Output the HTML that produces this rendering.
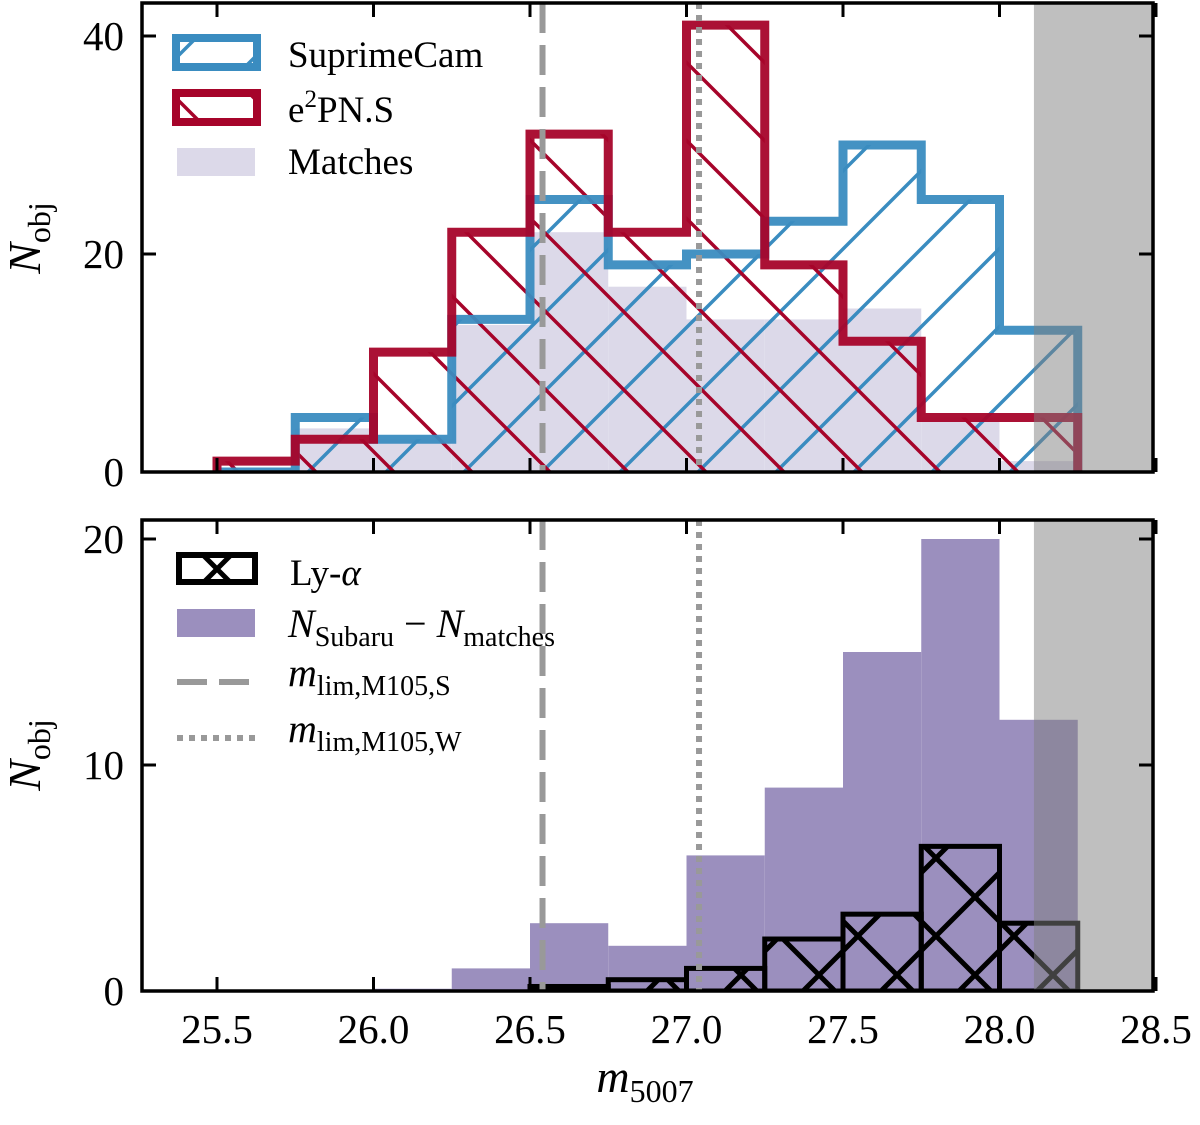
<!DOCTYPE html>
<html><head><meta charset="utf-8"><style>
body{margin:0;background:#fff}
svg text{font-family:"Liberation Serif","DejaVu Serif",serif;fill:#000}
</style></head><body>
<svg id="chart" width="1200" height="1120" viewBox="0 0 1200 1120" xmlns="http://www.w3.org/2000/svg">
<defs>
<pattern id="hatchBlue" patternUnits="userSpaceOnUse" width="78" height="78">
<path d="M-10,88 L88,-10 M-10,10 L10,-10 M68,88 L88,68" stroke="#3a8cc0" stroke-width="3.5"/>
</pattern>
<pattern id="hatchRed" patternUnits="userSpaceOnUse" width="78" height="78">
<path d="M-10,-10 L88,88 M-10,68 L10,88 M68,-10 L88,10" stroke="#a6042a" stroke-width="3.5"/>
</pattern>
<pattern id="hatchBlack" patternUnits="userSpaceOnUse" width="78" height="78">
<path d="M-10,-10 L88,88 M-10,68 L10,88 M68,-10 L88,10 M-10,88 L88,-10 M-10,10 L10,-10 M68,88 L88,68" stroke="#000" stroke-width="5"/>
</pattern>
<pattern id="hatchBlackLeg" patternUnits="userSpaceOnUse" x="178" y="530" width="78" height="78">
<path d="M-10,-10 L88,88 M-10,68 L10,88 M68,-10 L88,10 M-10,88 L88,-10 M-10,10 L10,-10 M68,88 L88,68" stroke="#000" stroke-width="5"/>
</pattern>
<clipPath id="clipTop"><rect x="142" y="3" width="1011" height="469"/></clipPath>
<clipPath id="clipBot"><rect x="142" y="520" width="1011" height="471"/></clipPath>
</defs>
<g id="topPanel"></g>
<g id="botPanel"></g>

<g transform="translate(40,238) rotate(-90)"><text x="0" y="0" font-size="46" font-style="italic" text-anchor="middle">N<tspan font-style="normal" font-size="32" dy="10">obj</tspan></text></g>
<g transform="translate(40,755) rotate(-90)"><text x="0" y="0" font-size="46" font-style="italic" text-anchor="middle">N<tspan font-style="normal" font-size="32" dy="10">obj</tspan></text></g>
<text x="645" y="1092" font-size="46" font-style="italic" text-anchor="middle">m<tspan font-style="normal" font-size="32" dy="10">5007</tspan></text>
<g>
<rect x="176" y="38" width="81" height="29" fill="url(#hatchBlue)" stroke="#3a8cc0" stroke-width="8"/>
<text x="288" y="67" font-size="37">SuprimeCam</text>
<rect x="176" y="93" width="81" height="29" fill="url(#hatchRed)" stroke="#a6042a" stroke-width="8"/>
<text x="288" y="122" font-size="37">e<tspan font-size="25" dy="-15">2</tspan><tspan dy="15">PN.S</tspan></text>
<rect x="177" y="148" width="78" height="28" fill="#dcd9e9"/>
<text x="288" y="174" font-size="37">Matches</text>
</g>
<g>
<rect x="179" y="555" width="76" height="27" fill="url(#hatchBlackLeg)" stroke="#000" stroke-width="6"/>
<text x="290" y="585" font-size="37">Ly-<tspan font-style="italic">α</tspan></text>
<rect x="177" y="609" width="78" height="28" fill="#9b8fbe"/>
<text x="288" y="637" font-size="40" font-style="italic">N<tspan font-style="normal" font-size="28" dy="9">Subaru</tspan><tspan font-style="normal" dy="-9"> − </tspan>N<tspan font-style="normal" font-size="28" dy="9">matches</tspan></text>
<line x1="177" x2="256" y1="682" y2="682" stroke="#999" stroke-width="6" stroke-dasharray="30,12"/>
<text x="288" y="686" font-size="40" font-style="italic">m<tspan font-style="normal" font-size="28" dy="9">lim,M105,S</tspan></text>
<line x1="177" x2="256" y1="738" y2="738" stroke="#999" stroke-width="6" stroke-dasharray="6,6"/>
<text x="288" y="742" font-size="40" font-style="italic">m<tspan font-style="normal" font-size="28" dy="9">lim,M105,W</tspan></text>
</g>
</svg>
<script>
const edges = [25.5,25.75,26.0,26.25,26.5,26.75,27.0,27.25,27.5,27.75,28.0,28.25];
const suprimeCam = [0,5,3,14,25,19,20,23,30,25,13];
const e2pns = [1,3,11,22,31,22,41,19,12,5,5];
const matches = [0,4,3,13.5,22,17,14,14,15,5,1];
const subaruMinusMatches = [0,0,0.1,1,3,2,6,9,15,20,12];
const lyAlpha = [0,0,0,0,0.2,0.5,1,2.3,3.4,6.4,3];
const xTicks = [25.5,26.0,26.5,27.0,27.5,28.0,28.5];
const yTicksTop = [0,20,40];
const yTicksBot = [0,10,20];
const limS = 26.54, limW = 27.04, shadeStart = 28.11;

const NS='http://www.w3.org/2000/svg';
const X0=142,X1=1153;
const xs=v=>217+(v-25.5)*313;
const yT=v=>472-v*10.9;
const yB=v=>991-v*22.6;
function mk(p,tag,a){const e=document.createElementNS(NS,tag);for(const k in a)e.setAttribute(k,a[k]);p.appendChild(e);return e;}
function stepPath(vals,ys,closed){
  let d=`M${xs(edges[0])},${ys(0)}`;
  vals.forEach((v,i)=>{d+=` L${xs(edges[i])},${ys(v)} L${xs(edges[i+1])},${ys(v)}`;});
  d+=` L${xs(edges[edges.length-1])},${ys(0)}`;
  if(closed)d+=' Z';
  return d;
}
const topPanel=document.getElementById('topPanel'), botPanel=document.getElementById('botPanel');
const gt=mk(topPanel,'g',{'clip-path':'url(#clipTop)'});
const gb=mk(botPanel,'g',{'clip-path':'url(#clipBot)'});

matches.forEach((v,i)=>{const r=mk(gt,'rect',{x:xs(edges[i]),y:yT(v),width:xs(edges[i+1])-xs(edges[i]),height:yT(0)-yT(v),fill:'#dcd9e9'});

});
let p=mk(gt,'path',{d:stepPath(suprimeCam,yT,true),fill:'url(#hatchBlue)',stroke:'none'});
p=mk(gt,'path',{d:stepPath(e2pns,yT,true),fill:'url(#hatchRed)',stroke:'none'});
p=mk(gt,'path',{d:stepPath(suprimeCam,yT,false),fill:'none',stroke:'#3a8cc0','stroke-width':9,'stroke-opacity':0.95});


p=mk(gt,'path',{d:stepPath(e2pns,yT,false),fill:'none',stroke:'#a6042a','stroke-width':9,'stroke-opacity':0.95});



subaruMinusMatches.forEach((v,i)=>{const r=mk(gb,'rect',{x:xs(edges[i]),y:yB(v),width:xs(edges[i+1])-xs(edges[i]),height:yB(0)-yB(v),fill:'#9b8fbe'});

});
lyAlpha.forEach((v,i)=>{if(v<=0)return;const r=mk(gb,'rect',{x:xs(edges[i]),y:yB(v),width:xs(edges[i+1])-xs(edges[i]),height:yB(0)-yB(v),fill:'url(#hatchBlack)',stroke:'#000','stroke-width':5});

});

[[gt,3,472],[gb,520,991]].forEach(([g,a,b])=>{
  let s=mk(g,'rect',{x:xs(shadeStart),y:a,width:X1-xs(shadeStart),height:b-a,fill:'rgba(128,128,128,0.5)'});
  
  
  let l=mk(g,'line',{x1:xs(limS),x2:xs(limS),y1:a,y2:b,stroke:'#999','stroke-width':6,'stroke-dasharray':'30,12'});
  
  
  l=mk(g,'line',{x1:xs(limW),x2:xs(limW),y1:a,y2:b,stroke:'#999','stroke-width':6,'stroke-dasharray':'6,6'});
  
  
});

function axes(g,a,b,ys,yt,showX){
  let f=mk(g,'rect',{x:X0,y:a,width:X1-X0,height:b-a,fill:'none',stroke:'#000','stroke-width':3.5});
  
  
  xTicks.forEach(v=>{const x=xs(v);mk(g,'line',{x1:x,x2:x,y1:b,y2:b-14,stroke:'#000','stroke-width':3});mk(g,'line',{x1:x,x2:x,y1:a,y2:a+14,stroke:'#000','stroke-width':3});
    if(showX){const t=mk(g,'text',{x:x,y:b+52,'font-size':41,'text-anchor':'middle'});t.textContent=v.toFixed(1);
    
    }});
  yt.forEach(v=>{const y=ys(v);mk(g,'line',{x1:X0,x2:X0+14,y1:y,y2:y,stroke:'#000','stroke-width':3});mk(g,'line',{x1:X1,x2:X1-14,y1:y,y2:y,stroke:'#000','stroke-width':3});
    const t=mk(g,'text',{x:124,y:y+14,'font-size':41,'text-anchor':'end'});t.textContent=v;
    
    });
}
axes(topPanel,3,472,yT,yTicksTop,false);
axes(botPanel,520,991,yB,yTicksBot,true);
</script>
</body></html>
